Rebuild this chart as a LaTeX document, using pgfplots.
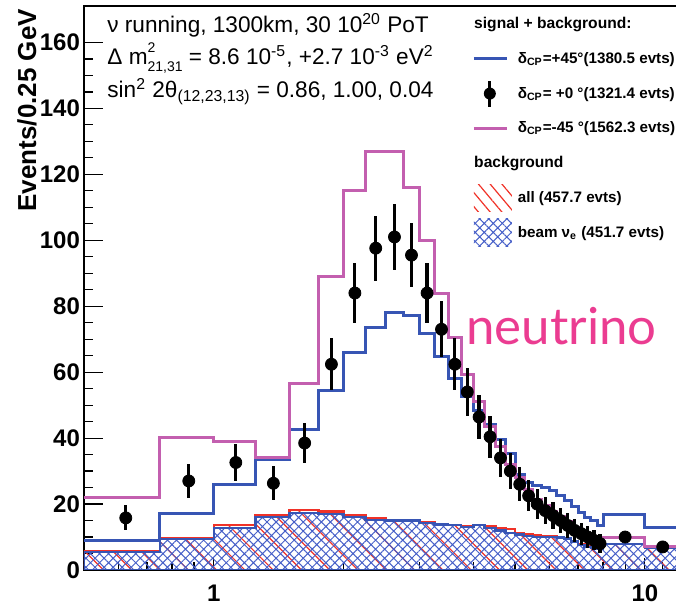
\documentclass[border=0pt]{standalone}
\usepackage{pgfplots}
\pgfplotsset{compat=1.18}
\usepackage{pgfplotstable}
\usepackage{fontspec}
\setmainfont{Liberation Sans}
\newfontfamily\latofont{Lato}
\usetikzlibrary{patterns.meta}

\definecolor{histblue}{RGB}{55,85,180}
\definecolor{histpink}{RGB}{195,95,175}
\definecolor{bkgred}{RGB}{240,50,40}
\definecolor{hatchblue}{RGB}{70,95,200}
\definecolor{nupink}{RGB}{235,60,145}

\pgfplotstableread{
x     beam  all   plus  minus
0.5   5.5   5.6   8.9   22
0.75  9.4   9.5   17    40.3
1.0   12.8  13.6  25.8  39
1.25  16.1  16.6  33.6  34
1.5   17.2  18.2  42.7  56.7
1.75  17.0  17.8  54.5  89
2.0   16.1  16.6  66    115
2.25  15.2  15.6  73.6  127
2.5   15.0  15.2  78    127
2.75  15.0  15.1  77.3  116
3.0   14.3  14.4  71.7  100
3.25  13.8  13.9  64.6  84
3.5   13.6  13.7  58    70.6
3.75  13.1  13.2  52.7  59.4
4.0   13.6  13.7  48.5  51.2
4.25  12.7  13.3  44    43.6
4.5   12.0  12.6  39.7  37.6
4.75  11.2  12.5  35.4  32
5.0   10.8  11.3  29    28
5.25  10.3  10.8  26.4  24.5
5.5   10.0  10.4  25.5  21.5
5.75  10.0  10.2  25    19.5
6.0   10.0  10.1  24    17.8
6.25  9.8   9.9   22.5  16.2
6.5   9.5   9.6   21    14.6
6.75  8.6   8.7   19.4  13
7.0   7.6   7.7   17.5  11.8
7.25  7.0   7.1   16    10.5
7.5   6.7   6.8   15    9.5
7.75  6.5   6.6   13.4  8.2
8     7.8   7.9   16.7  10
10    6.7   6.8   13    7
15    6.7   6.8   13    7
}\histdata

\pgfplotstableread{
x      y     e
0.625  15.8  3.8
0.875  27    5.2
1.125  32.6  5.7
1.375  26.3  5.1
1.625  38.5  6.2
1.875  62.4  7.9
2.125  84    9.2
2.375  97.6  9.9
2.625  101   10
2.875  95.5  9.8
3.125  84    9.2
3.375  73    8.5
3.625  62.4  7.9
3.875  54    7.3
4.125  46.4  6.8
4.375  40.4  6.4
4.625  34    5.8
4.875  30    5.5
5.125  26    5.1
5.375  22.5  4.7
5.625  20    4.5
5.875  18    4.2
6.125  16.5  4.1
6.375  15    3.9
6.625  13.5  3.7
6.875  12    3.5
7.125  11    3.3
7.375  10    3.2
7.625  9     3.0
7.875  8     2.8
9.0    10    1.1
11.0   7     0.9
}\pointdata

\pgfplotsset{
  hdrA/.style={legend image code/.code={\path[draw=none] (0pt,0pt) -- (19pt,0pt); \node[overlay,anchor=west,inner sep=0pt,font=\bfseries\fontsize{7.8}{9}\selectfont] at (0pt,0pt) {signal + background:};}},
  hdrB/.style={legend image code/.code={\path[draw=none] (0pt,0pt) -- (19pt,0pt); \node[overlay,anchor=west,inner sep=0pt,font=\bfseries\fontsize{7.8}{9}\selectfont] at (0pt,0pt) {background};}},
  lineblue/.style={legend image code/.code={\path[draw=none] (0pt,0pt) -- (19pt,0pt); \draw[histblue,line width=1.5pt] (0pt,0pt) -- (16.5pt,0pt);}},
  linepink/.style={legend image code/.code={\path[draw=none] (0pt,0pt) -- (19pt,0pt); \draw[histpink,line width=1.5pt] (0pt,0pt) -- (16.5pt,0pt);}},
  ptlegend/.style={legend image code/.code={\path[draw=none] (0pt,0pt) -- (19pt,0pt); \draw[black,line width=1.5pt] (8pt,-6.5pt) -- (8pt,6.5pt); \fill[black,draw=none] (8pt,0pt) circle (3pt);}},
  redbox/.style={legend image code/.code={\path[draw=none,pattern={Lines[angle=-50,distance=4.5pt,line width=0.6pt]},pattern color=bkgred] (0pt,-6.75pt) rectangle (19pt,6.75pt);}},
  bluebox/.style={legend image code/.code={\path[draw=none,pattern={Hatch[angle=45,distance=3.2pt,line width=0.5pt]},pattern color=hatchblue] (0pt,-7pt) rectangle (19pt,7pt);}},
}

\begin{document}
\begin{tikzpicture}
\useasboundingbox (-42pt,-19pt) rectangle (296pt,285pt);
\clip (-42pt,-19pt) rectangle (296pt,285pt);
\begin{axis}[
  at={(0pt,0pt)}, anchor=south west,
  scale only axis, width=297.5pt, height=281.9pt,
  xmode=log, xmin=0.5, xmax=12, ymin=0, ymax=171,
  xtick={1,10}, xticklabels={1,10},
  minor xtick={0.6,0.7,0.8,0.9,2,3,4,5,6,7,8,9,11},
  ytick={0,20,...,160}, minor y tick num=3,
  tick align=inside, xtick pos=left, ytick pos=left,
  xtick style={/pgfplots/major tick length=6pt,/pgfplots/minor tick length=4pt,black,line width=0.6pt},
  ytick style={/pgfplots/major tick length=9.5pt,/pgfplots/minor tick length=4.5pt,black,line width=0.6pt},
  ticklabel style={font=\bfseries\fontsize{12}{12}\selectfont},
  xticklabel style={yshift=-4pt},
  yticklabel style={xshift=1.5pt},
  /pgf/number format/assume math mode=true,
  axis line style={line width=0.8pt},
  ylabel={Events/0.25 GeV},
  every axis y label/.style={at={(axis description cs:-0.0958,1.0075)}, rotate=90, anchor=east, font=\bfseries\fontsize{13}{13}\selectfont},
  legend style={at={(axis description cs:0.652,1.0)}, anchor=north west, draw=none, fill=none,
    font=\bfseries\fontsize{7.6}{9}\selectfont, row sep=0pt, inner sep=0pt,
    nodes={inner xsep=3pt, inner ysep=0pt, text height=11pt, text depth=6.4pt}},
  legend cell align=left,
]
\addlegendimage{hdrA}\addlegendentry{}
\addlegendimage{lineblue}\addlegendentry{δ\textsubscript{CP}=+45°(1380.5 evts)}
\addlegendimage{ptlegend}\addlegendentry{δ\textsubscript{CP}= +0 °(1321.4 evts)}
\addlegendimage{linepink}\addlegendentry{δ\textsubscript{CP}=-45 °(1562.3 evts)}
\addlegendimage{hdrB}\addlegendentry{}
\addlegendimage{redbox}\addlegendentry{all (457.7 evts)}
\addlegendimage{bluebox}\addlegendentry{beam ν\textsubscript{e} (451.7 evts)}

\addplot[forget plot, const plot mark left, draw=bkgred, line width=1.2pt,
  pattern={Lines[angle=-45,distance=10pt,line width=0.6pt]}, pattern color=bkgred]
  table[x=x,y=all]{\histdata} \closedcycle;
\addplot[forget plot, const plot mark left, draw=histblue, line width=1.2pt,
  pattern={Hatch[angle=45,distance=3.2pt,line width=0.5pt]}, pattern color=hatchblue]
  table[x=x,y=beam]{\histdata} \closedcycle;
\addplot[forget plot, const plot mark left, histblue, line width=1.5pt, no marks]
  table[x=x,y=plus]{\histdata};
\addplot[forget plot, const plot mark left, histpink, line width=1.5pt, no marks]
  table[x=x,y=minus]{\histdata};
\addplot[forget plot, only marks, mark=*, mark size=3pt, black,
  error bars/.cd, y dir=both, y explicit, error mark=none,
  error bar style={line width=1.6pt, black}]
  table[x=x,y=y,y error=e]{\pointdata};
\end{axis}
\node[anchor=west, inner sep=0pt, font=\fontsize{11.3}{13}\selectfont] at (11.5pt,272.5pt) {ν running, 1300km, 30 10\textsuperscript{20} PoT};
\node[anchor=west, inner sep=0pt, font=\fontsize{11.3}{13}\selectfont] at (11.5pt,256pt) {Δ m\rlap{\raisebox{0.5em}{\fontsize{7}{7}\selectfont 2}}\raisebox{-0.32em}{\fontsize{7}{7}\selectfont 21,31} = 8.6 10\textsuperscript{-5}, +2.7 10\textsuperscript{-3} eV\textsuperscript{2}};
\node[anchor=west, inner sep=0pt, font=\fontsize{11.3}{13}\selectfont] at (11.5pt,239pt) {sin\textsuperscript{2} 2θ\textsubscript{(12,23,13)} = 0.86, 1.00, 0.04};
\node[anchor=base west, inner sep=0pt, text=nupink, font=\latofont\fontsize{25.5}{26}\selectfont] at (191pt,112.5pt) {neutrino};
\end{tikzpicture}
\end{document}
